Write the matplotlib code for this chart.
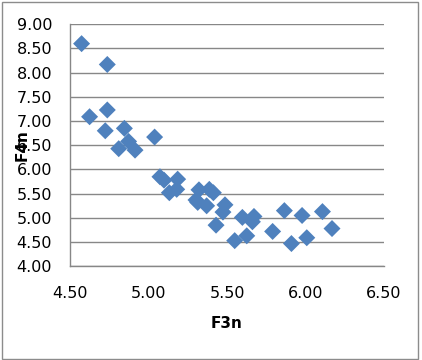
import matplotlib
matplotlib.use("Agg")
import matplotlib.pyplot as plt
from matplotlib.patches import Rectangle

f3n = [4.572, 4.736, 4.623, 4.736, 4.723, 4.845, 4.809, 4.872, 4.913, 5.038,
       5.072, 5.098, 5.185, 5.132, 5.179, 5.302, 5.321, 5.313, 5.387, 5.413,
       5.370, 5.487, 5.474, 5.430, 5.598, 5.549, 5.672, 5.662, 5.626, 5.791,
       5.866, 5.911, 5.979, 6.009, 6.109, 6.170]
f4n = [8.60, 8.17, 7.09, 7.23, 6.80, 6.85, 6.43, 6.58, 6.40, 6.67,
       5.85, 5.78, 5.80, 5.52, 5.59, 5.37, 5.58, 5.32, 5.59, 5.52,
       5.25, 5.27, 5.12, 4.85, 5.01, 4.53, 5.03, 4.92, 4.63, 4.72,
       5.15, 4.47, 5.05, 4.59, 5.13, 4.78]

xticks = [4.5, 5.0, 5.5, 6.0, 6.5]
yticks = [4.0, 4.5, 5.0, 5.5, 6.0, 6.5, 7.0, 7.5, 8.0, 8.5, 9.0]

fig = plt.figure(figsize=(4.22, 3.60), dpi=100)
ax = fig.add_axes([0.1666, 0.2603, 0.7427, 0.6722])

ax.scatter(f3n, f4n, marker="D", s=75, color="#4F81BD", edgecolors="none", zorder=3)

ax.set_xlim(4.5, 6.5)
ax.set_ylim(4.0, 9.0)
ax.set_xticks(xticks)
ax.set_yticks(yticks)
ax.set_xticklabels([f"{v:.2f}" for v in xticks])
ax.set_yticklabels([f"{v:.2f}" for v in yticks])
ax.tick_params(axis="both", length=0, labelsize=11.5, colors="black")
ax.tick_params(axis="y", pad=13)
ax.tick_params(axis="x", pad=14)

ax.grid(axis="y", color="#878787", linewidth=1.0, zorder=0)
ax.set_axisbelow(True)
for s in ["top", "right"]:
    ax.spines[s].set_visible(False)
for s in ["left", "bottom"]:
    ax.spines[s].set_color("#878787")
    ax.spines[s].set_linewidth(1.0)

fig.text(0.5 * (0.1666 + 0.9093), 1 - 323 / 360, "F3n", ha="center", va="center",
         fontsize=11, fontweight="bold")
fig.text(22 / 422, 1 - 145 / 360, "F4n", ha="center", va="center", rotation=90,
         fontsize=11, fontweight="bold")

fig.patches.append(Rectangle((1.5 / 422, 1.5 / 360), 416 / 422, 357 / 360,
                             transform=fig.transFigure, fill=False,
                             edgecolor="#8C8C8C", linewidth=1.0))

fig.savefig("out.png", dpi=100)
